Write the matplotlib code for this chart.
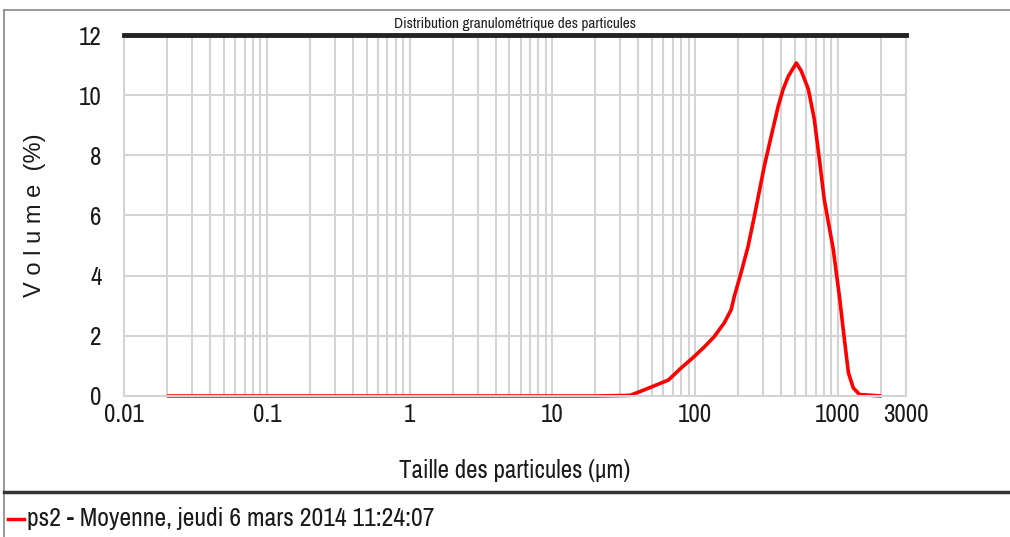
import numpy as np
import matplotlib.pyplot as plt
from matplotlib.lines import Line2D
from matplotlib.ticker import LogLocator, NullFormatter

# particle size (um) and volume (%)
size_um = [0.02, 1, 20, 35, 43.9, 65, 79.8, 98, 116, 136, 160, 179, 188, 210, 235,
           260, 305, 341, 382, 414, 450, 512, 555, 621, 684, 750, 803, 929, 1026,
           1112, 1186, 1282, 1416, 2020]
volume = [0.0, 0.0, 0.0, 0.02, 0.2, 0.53, 0.93, 1.3, 1.63, 1.97, 2.43, 2.87, 3.3,
          4.1, 4.97, 5.97, 7.63, 8.63, 9.63, 10.2, 10.63, 11.07, 10.8, 10.2, 9.2,
          7.7, 6.53, 4.87, 3.3, 1.87, 0.77, 0.27, 0.05, 0.0]

x_ticks = [0.01, 0.1, 1, 10, 100, 1000, 3000]
x_labels = ["0.01", "0.1", "1", "10", "100", "1000", "3000"]
y_ticks = [0, 2, 4, 6, 8, 10, 12]

title = "Distribution granulométrique des particules"
legend_label = "ps2 - Moyenne, jeudi 6 mars 2014 11:24:07"

plt.rcParams['font.family'] = ['Archivo Narrow', 'Liberation Sans', 'DejaVu Sans']

fig = plt.figure(figsize=(10.1, 5.37), dpi=100)
ax = fig.add_axes([0.1228, 0.2626, 0.7742, 0.6722])

ax.set_xscale('log')
ax.set_xlim(0.01, 3000)
ax.set_ylim(0, 12)

grid_color = '#d4d4d4'
ax.set_xticks(x_ticks)
ax.set_xticklabels(x_labels)
ax.set_yticks(y_ticks)
ax.xaxis.set_minor_locator(LogLocator(base=10, subs=np.arange(2, 10)))
ax.xaxis.set_minor_formatter(NullFormatter())
ax.tick_params(axis='both', which='both', length=0, labelsize=18, colors='#1a1a1a')
ax.tick_params(axis='x', pad=5)
ax.tick_params(axis='y', pad=16)
ax.grid(True, which='both', axis='x', color=grid_color, lw=1.5)
ax.grid(True, which='major', axis='y', color=grid_color, lw=1.5)
ax.set_axisbelow(True)

for side in ['left', 'bottom', 'right']:
    ax.spines[side].set_color(grid_color)
    ax.spines[side].set_linewidth(1.5)
ax.spines['top'].set_color('#222222')
ax.spines['top'].set_linewidth(3.5)

ax.plot(size_um, volume, color='#ff0000', lw=2.6, solid_capstyle='butt', clip_on=False)

ax.set_title(title, fontsize=11, fontweight='bold', pad=5, color='#222222')
ax.set_xlabel("Taille des particules (µm)", fontsize=18, labelpad=24, color='#1a1a1a')
ax.set_ylabel("V o l u m e  (%)", fontsize=17, labelpad=24, color='#1a1a1a',
              family=['Liberation Sans', 'DejaVu Sans'])

# outer frame and legend strip
fig.add_artist(Line2D([0.004, 0.004], [0, 0.982], color='#888888', lw=1.2))
fig.add_artist(Line2D([0.004, 1.0], [0.982, 0.982], color='#888888', lw=1.2))
fig.add_artist(Line2D([0.004, 1.0], [0.084, 0.084], color='#333333', lw=2.5))
fig.add_artist(Line2D([0.008, 0.024], [0.034, 0.034], color='#ff0000', lw=2.5))
fig.text(0.027, 0.034, legend_label, fontsize=18.5, va='center', ha='left', color='#1a1a1a')

fig.savefig('out.png', dpi=100)
